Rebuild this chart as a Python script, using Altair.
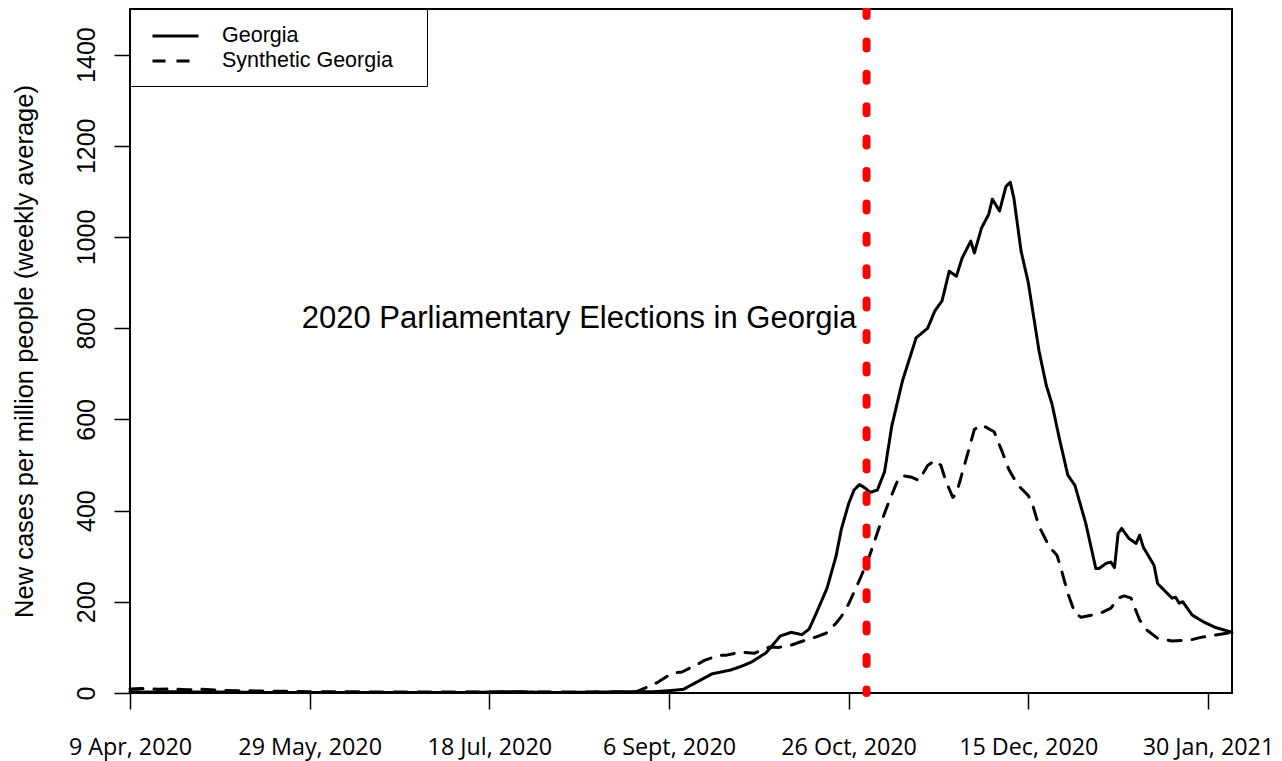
import altair as alt
import pandas as pd

# x positions are days since 9 Apr 2020
georgia_days = [0, 5, 10, 20, 30, 40, 50, 60, 70, 80, 90, 100, 106, 112, 120, 130, 140, 146, 150,
                154, 158, 162, 167, 170, 173, 177, 181, 184, 187, 189, 191, 194, 196.5, 198, 200,
                201.5, 203, 204.5, 206, 208, 210, 212, 215, 218.8, 222, 224, 226, 228, 230, 231.6,
                234, 235, 237, 239, 240, 242, 243.8, 245, 246, 248, 250, 253, 255, 256.6, 258.6,
                261, 263, 266, 268.8, 269.7, 271.6, 273, 274, 275, 276, 278, 280, 281, 282, 285,
                286, 290, 291, 292, 293, 295.6, 299, 302, 306.7]
georgia_values = [3, 2, 3, 2, 2, 1, 1, 1, 1, 1, 1, 2, 3, 2, 1, 2, 3, 3, 5,
                  8, 25, 42, 50, 58, 68, 88, 125, 133, 128, 140, 175, 230, 300, 360, 415,
                  445, 457, 450, 440, 445, 485, 585, 685, 779, 800, 838, 860, 925, 914, 954,
                  991, 965, 1020, 1050, 1083, 1057, 1111, 1120, 1085, 969, 900, 750, 675, 634, 560,
                  478, 455, 372, 273, 273, 284, 287, 275, 350, 361, 339, 328, 346, 320, 280,
                  240, 208, 210, 197, 200, 171, 155, 144, 133]

synthetic_days = [0, 3, 8, 12, 16, 20, 25, 30, 40, 50, 60, 70, 80, 90, 100, 110, 120, 130, 138,
                  141, 144, 147, 151, 153.6, 157.5, 160, 164, 166, 170, 173.7, 178, 180.6, 184,
                  188, 191, 193.7, 196.5, 198, 200, 203, 205.7, 208.5, 211, 214, 215.4, 217.6,
                  219.6, 222, 224, 225.7, 227, 229, 230, 232.6, 235, 237, 240.5, 242.7, 244.6,
                  247, 250, 251, 253, 256, 258, 259, 261, 263, 264.7, 267.8, 270.6, 273, 275,
                  276.7, 278.6, 281, 283, 286, 290, 295, 298, 302, 306.7]
synthetic_values = [9, 10, 8, 9, 7, 8, 6, 5, 4, 3, 3, 2, 2, 2, 2, 2, 2, 2, 2,
                    3, 13, 24, 44, 46, 61, 72, 83, 83, 90, 87, 101, 100, 105,
                    116, 123, 131, 153, 168, 195, 247, 298, 363, 415, 473, 476, 473,
                    466, 499, 510, 499, 466, 429, 437, 510, 578, 588, 573, 530, 490,
                    457, 433, 418, 365, 319, 302, 276, 219, 175, 166, 171, 177, 186, 208,
                    213, 208, 160, 138, 120, 114, 116, 122, 127, 133]

series_names = ["Georgia", "Synthetic Georgia"]
x_tick_days = [0, 50, 100, 150, 200, 250, 300]
x_tick_labels = ["9 Apr, 2020", "29 May, 2020", "18 Jul, 2020", "6 Sept, 2020",
                 "26 Oct, 2020", "15 Dec, 2020", "30 Jan, 2021"]
y_ticks = [0, 200, 400, 600, 800, 1000, 1200, 1400]
election_day = [205]
annotation_label = ["2020 Parliamentary Elections in Georgia"]
annotation_value = [800]

lines_df = pd.concat([
    pd.DataFrame({"day": georgia_days, "value": georgia_values, "series": series_names[0]}),
    pd.DataFrame({"day": synthetic_days, "value": synthetic_values, "series": series_names[1]}),
])

label_expr = ("[" + ",".join("'" + s + "'" for s in x_tick_labels) + "][indexof(["
              + ",".join(str(d) for d in x_tick_days) + "], datum.value)]")

x_scale = alt.Scale(domain=[0, 306.7], nice=False, zero=False)
y_scale = alt.Scale(domain=[0, 1500], nice=False)

x_axis = alt.Axis(values=x_tick_days, labelExpr=label_expr, title=None, grid=False, domain=False,
                  labelFont="Open Sans", labelFontSize=23.3, labelColor="black",
                  tickSize=16, tickWidth=1.5, tickColor="black",
                  labelBaseline="alphabetic", labelPadding=45, labelOverlap=False, labelFlush=False)
y_axis = alt.Axis(values=y_ticks, format="d", title="New cases per million people (weekly average)",
                  grid=False, domain=False, labelFont="Liberation Sans", labelFontSize=25,
                  labelColor="black", labelAngle=270, labelAlign="center",
                  labelBaseline="alphabetic", labelPadding=20,
                  tickSize=16, tickWidth=1.5, tickColor="black",
                  titleFont="Liberation Sans", titleFontSize=25.5, titleFontWeight="normal",
                  titleColor="black", titleAngle=270, titleAlign="center",
                  titleBaseline="alphabetic", titleX=-98, titleY=342)

legend = alt.Legend(title="\u00a0", titleOrient="right", titlePadding=20, titleFontSize=2,
                    orient="none", legendX=0, legendY=0,
                    strokeColor="black", fillColor="white", padding=14,
                    symbolType="M-2,0H2", symbolSize=529, symbolStrokeWidth=3,
                    symbolStrokeColor="black", symbolOffset=18.5,
                    labelFont="Liberation Sans", labelFontSize=21.5, labelColor="black",
                    labelOffset=33.5, rowPadding=1, labelLimit=400)

lines = alt.Chart(lines_df).mark_line(color="black", strokeWidth=3, strokeCap="round",
                                      strokeJoin="round").encode(
    x=alt.X("day:Q", scale=x_scale, axis=x_axis),
    y=alt.Y("value:Q", scale=y_scale, axis=y_axis),
    strokeDash=alt.StrokeDash("series:N",
                              scale=alt.Scale(domain=series_names, range=[[1, 0], [13, 11]]),
                              legend=legend),
)

rule = alt.Chart(pd.DataFrame({"day": election_day})).mark_rule(
    color="#ff0000", strokeWidth=8, strokeDash=[7, 25.4], strokeCap="round").encode(
    x=alt.X("day:Q", scale=x_scale))

text = alt.Chart(pd.DataFrame({"day": election_day, "value": annotation_value,
                               "label": annotation_label})).mark_text(
    font="Liberation Sans", fontSize=31, align="right", baseline="alphabetic", dx=-10,
    color="black").encode(
    x=alt.X("day:Q", scale=x_scale),
    y=alt.Y("value:Q", scale=y_scale),
    text="label:N")

chart = alt.layer(lines, rule, text).properties(
    width=1102, height=684, autosize="none",
    padding={"left": 122, "top": 1, "right": 42, "bottom": 68},
).configure(background="white").configure_view(stroke="black", strokeWidth=2)

chart.save("out.html", embed_options={"renderer": "svg", "actions": False})
